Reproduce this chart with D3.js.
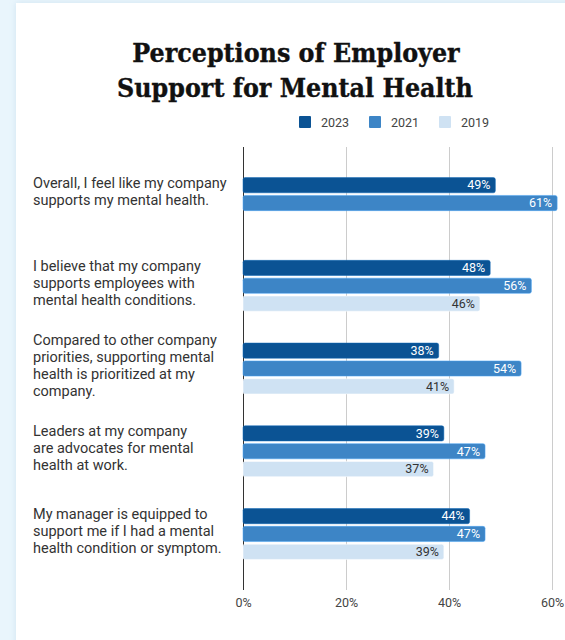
<!DOCTYPE html>
<html>
<head>
<meta charset="utf-8">
<script src="https://cdn.jsdelivr.net/npm/d3@7/dist/d3.min.js"></script>
<style>
  html, body { margin: 0; padding: 0; background: #e9f5fc; }
  svg { display: block; }
</style>
</head>
<body>
<svg id="chart" width="565" height="640"></svg>
<script>
// Survey statements (pre-wrapped into lines)
const categories = [
  ["Overall, I feel like my company", "supports my mental health."],
  ["I believe that my company", "supports employees with", "mental health conditions."],
  ["Compared to other company", "priorities, supporting mental", "health is prioritized at my", "company."],
  ["Leaders at my company", "are advocates for mental", "health at work."],
  ["My manager is equipped to", "support me if I had a mental", "health condition or symptom."]
];
const years = ["2023", "2021", "2019"];
const values2023 = [49, 48, 38, 39, 44];
const values2021 = [61, 56, 54, 47, 47];
const values2019 = [null, 46, 41, 37, 39];
const tickValues = [0, 20, 40, 60];
const tickLabels = ["0%", "20%", "40%", "60%"];

const colors = { "2023": "#0b5394", "2021": "#3d85c6", "2019": "#cfe2f3" };
const labelColors = { "2023": "#ffffff", "2021": "#ffffff", "2019": "#333333" };
const seriesValues = { "2023": values2023, "2021": values2021, "2019": values2019 };

const svg = d3.select("#chart");

// soft card shadow
const defs = svg.append("defs");
const f = defs.append("filter").attr("id", "shadow").attr("x", "-5%").attr("y", "-5%").attr("width", "110%").attr("height", "110%");
f.append("feDropShadow").attr("dx", 0).attr("dy", 0).attr("stdDeviation", 3).attr("flood-color", "#9fc3dc").attr("flood-opacity", 0.35);

svg.append("rect").attr("x", 16).attr("y", 3).attr("width", 560).attr("height", 650)
  .attr("fill", "#ffffff").attr("filter", "url(#shadow)");

// Title
const title = svg.append("text")
  .attr("text-anchor", "middle")
  .attr("font-family", "'DejaVu Serif', serif")
  .attr("font-weight", "bold")
  .attr("font-stretch", "condensed")
  .attr("font-size", 26.5)
  .attr("fill", "#111")
  .attr("stroke", "#111")
  .attr("stroke-width", 0.35);
title.append("tspan").attr("x", 296).attr("y", 62).text("Perceptions of Employer");
title.append("tspan").attr("x", 295).attr("y", 97).text("Support for Mental Health");

// Scales
const x = d3.scaleLinear().domain([0, 60]).range([243, 552]);
const y0 = d3.scaleBand().domain(d3.range(categories.length)).range([147, 590])
  .paddingInner(0.385).paddingOuter(0.37);
const y1 = d3.scaleBand().domain(years).range([0, y0.bandwidth()]).paddingInner(0.15);

// Gridlines and axis
const xAxis = d3.axisBottom(x).tickValues(tickValues).tickFormat((d, i) => tickLabels[i]).tickSize(0);
const gx = svg.append("g").attr("transform", "translate(0,590)").call(xAxis);
gx.select(".domain").remove();
gx.selectAll(".tick text")
  .attr("dy", 0).attr("y", 17)
  .attr("font-family", "Roboto, sans-serif").attr("font-size", 12.5).attr("fill", "#444");
gx.selectAll(".tick").append("line")
  .attr("y1", 0).attr("y2", -443)
  .attr("stroke", d => d === 0 ? "#333" : "#cccccc")
  .attr("stroke-width", 1)
  .attr("shape-rendering", "crispEdges");

// Bars
const rows = [];
categories.forEach((c, i) => {
  years.forEach(yr => {
    const v = seriesValues[yr][i];
    if (v != null) rows.push({ i, yr, v });
  });
});

const bars = svg.append("g");
bars.selectAll("rect").data(rows).join("rect")
  .attr("x", x(0))
  .attr("y", d => y0(d.i) + y1(d.yr))
  .attr("width", d => x(d.v) - x(0))
  .attr("height", y1.bandwidth())
  .attr("rx", 2)
  .attr("fill", d => colors[d.yr])
  .attr("stroke", d => d3.color(colors[d.yr]).brighter(0.6))
  .attr("stroke-opacity", 0.5)
  .attr("stroke-width", 1);

bars.selectAll("text").data(rows).join("text")
  .attr("x", d => x(d.v) - 5)
  .attr("y", d => y0(d.i) + y1(d.yr) + y1.bandwidth() / 2 + 4.3)
  .attr("text-anchor", "end")
  .attr("font-family", "Roboto, sans-serif")
  .attr("font-size", 12.5)
  .attr("fill", d => labelColors[d.yr])
  .text(d => d.v + "%");

// Category labels, centred on the bars present in each group
const lineH = 16.8;
const labels = svg.append("g");
categories.forEach((lines, i) => {
  const present = years.filter(yr => seriesValues[yr][i] != null);
  const top = y0(i) + y1(present[0]);
  const bottom = y0(i) + y1(present[present.length - 1]) + y1.bandwidth();
  const mid = (top + bottom) / 2 - 3;
  const firstBaseline = mid - (lines.length - 1) * lineH / 2 + 5;
  const t = labels.append("text")
    .attr("font-family", "Roboto, sans-serif")
    .attr("font-size", 14.5)
    .attr("fill", "#333");
  lines.forEach((ln, k) => {
    t.append("tspan").attr("x", 33).attr("y", firstBaseline + k * lineH).text(ln);
  });
});

// Legend
const legendX = [299, 369, 439];
const legend = svg.append("g");
years.forEach((yr, k) => {
  legend.append("rect").attr("x", legendX[k]).attr("y", 116).attr("width", 12).attr("height", 12)
    .attr("rx", 1).attr("fill", colors[yr]);
  legend.append("text").attr("x", legendX[k] + 22).attr("y", 126.5)
    .attr("font-family", "Roboto, sans-serif").attr("font-size", 12.5).attr("fill", "#444")
    .text(yr);
});
</script>
</body>
</html>
